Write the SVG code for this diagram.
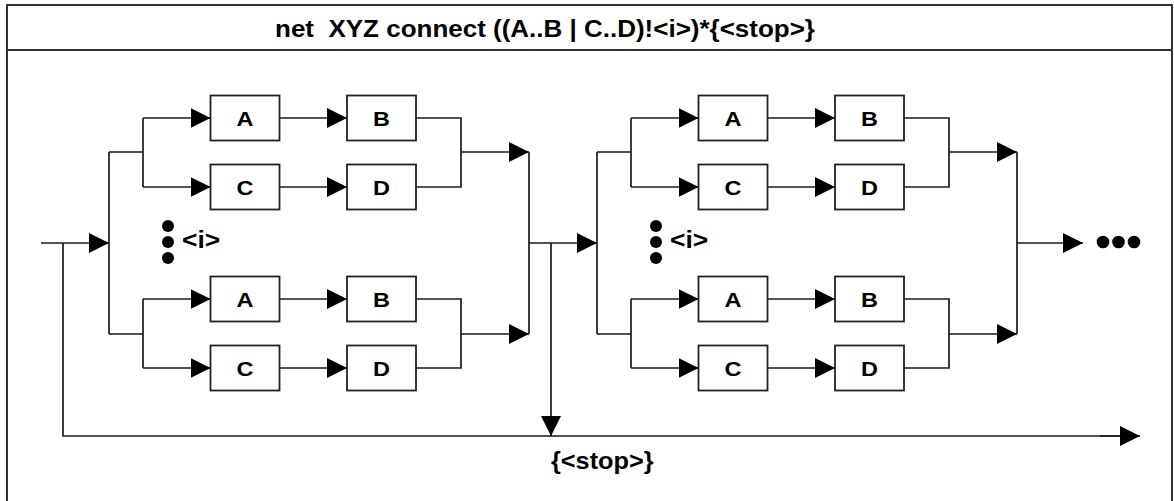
<svg xmlns="http://www.w3.org/2000/svg" width="1174" height="501" viewBox="0 0 1174 501">
<defs>
<style>
.frame{fill:none;stroke:#333;stroke-width:2}
.ln{fill:none;stroke:#1a1a1a;stroke-width:1.7}
.arr{fill:none;stroke:#1a1a1a;stroke-width:1.7;marker-end:url(#ah)}
.box rect{fill:#fff;stroke:#222;stroke-width:1.8}
.t{font-family:"Liberation Sans",Arial,sans-serif;font-weight:bold;fill:#000}
.bl{font-size:21px;text-anchor:middle}
.lbl{font-size:23px}
.dot{fill:#000}
</style>
<marker id="ah" viewBox="0 0 20 20" refX="20" refY="10" markerWidth="20" markerHeight="20" markerUnits="userSpaceOnUse" orient="auto">
<path d="M0,0 L20,10 L0,20 z" fill="#000"/>
</marker>
</defs>
<rect width="1174" height="501" fill="#fff"/>
<g id="frame">
<rect class="frame" x="7" y="5" width="1165" height="510"/>
<line class="frame" x1="7" y1="50" x2="1172" y2="50"/>
<text class="t lbl" text-anchor="middle" transform="translate(545,37) scale(1.13,1)">net &#160;XYZ connect ((A..B | C..D)!&lt;i&gt;)*{&lt;stop&gt;}</text>
</g>
<g id="connectors">
<line class="arr" x1="41" y1="243" x2="109" y2="243"/>
<polyline class="ln" points="63,243 63,436 1120,436"/>
<line class="arr" x1="1100" y1="436" x2="1140" y2="436"/>
<line class="ln" x1="109" y1="152" x2="109" y2="334"/>
<line class="ln" x1="109" y1="152" x2="143" y2="152"/>
<line class="ln" x1="109" y1="334" x2="143" y2="334"/>
<line class="ln" x1="143" y1="118" x2="143" y2="187"/>
<line class="ln" x1="143" y1="299" x2="143" y2="368"/>
<line class="arr" x1="143" y1="118" x2="210.5" y2="118"/>
<line class="arr" x1="143" y1="187" x2="210.5" y2="187"/>
<line class="arr" x1="143" y1="299" x2="210.5" y2="299"/>
<line class="arr" x1="143" y1="368" x2="210.5" y2="368"/>
<line class="arr" x1="279.5" y1="118" x2="347" y2="118"/>
<line class="arr" x1="279.5" y1="187" x2="347" y2="187"/>
<line class="arr" x1="279.5" y1="299" x2="347" y2="299"/>
<line class="arr" x1="279.5" y1="368" x2="347" y2="368"/>
<polyline class="ln" points="416,118 461,118 461,187 416,187"/>
<polyline class="ln" points="416,299 461,299 461,368 416,368"/>
<line class="arr" x1="461" y1="152" x2="529" y2="152"/>
<line class="arr" x1="461" y1="334" x2="529" y2="334"/>
<line class="ln" x1="529" y1="152" x2="529" y2="334"/>
<line class="arr" x1="529" y1="243" x2="597" y2="243"/>
<line class="arr" x1="551" y1="243" x2="551" y2="436"/>
<line class="ln" x1="597" y1="152" x2="597" y2="334"/>
<line class="ln" x1="597" y1="152" x2="631" y2="152"/>
<line class="ln" x1="597" y1="334" x2="631" y2="334"/>
<line class="ln" x1="631" y1="118" x2="631" y2="187"/>
<line class="ln" x1="631" y1="299" x2="631" y2="368"/>
<line class="arr" x1="631" y1="118" x2="698.5" y2="118"/>
<line class="arr" x1="631" y1="187" x2="698.5" y2="187"/>
<line class="arr" x1="631" y1="299" x2="698.5" y2="299"/>
<line class="arr" x1="631" y1="368" x2="698.5" y2="368"/>
<line class="arr" x1="767.5" y1="118" x2="835" y2="118"/>
<line class="arr" x1="767.5" y1="187" x2="835" y2="187"/>
<line class="arr" x1="767.5" y1="299" x2="835" y2="299"/>
<line class="arr" x1="767.5" y1="368" x2="835" y2="368"/>
<polyline class="ln" points="904,118 949,118 949,187 904,187"/>
<polyline class="ln" points="904,299 949,299 949,368 904,368"/>
<line class="arr" x1="949" y1="152" x2="1017" y2="152"/>
<line class="arr" x1="949" y1="334" x2="1017" y2="334"/>
<line class="ln" x1="1017" y1="152" x2="1017" y2="334"/>
<line class="arr" x1="1017" y1="243" x2="1083" y2="243"/>
</g>
<g id="nodeA1" class="box"><rect x="210.5" y="95.5" width="69" height="45"/><text class="t bl" transform="translate(245,125.5) scale(1.12,1)">A</text></g>
<g id="nodeB1" class="box"><rect x="347" y="95.5" width="69" height="45"/><text class="t bl" transform="translate(381.5,125.5) scale(1.12,1)">B</text></g>
<g id="nodeC1" class="box"><rect x="210.5" y="164.5" width="69" height="45"/><text class="t bl" transform="translate(245,194.5) scale(1.12,1)">C</text></g>
<g id="nodeD1" class="box"><rect x="347" y="164.5" width="69" height="45"/><text class="t bl" transform="translate(381.5,194.5) scale(1.12,1)">D</text></g>
<g id="nodeA2" class="box"><rect x="210.5" y="276.5" width="69" height="45"/><text class="t bl" transform="translate(245,306.5) scale(1.12,1)">A</text></g>
<g id="nodeB2" class="box"><rect x="347" y="276.5" width="69" height="45"/><text class="t bl" transform="translate(381.5,306.5) scale(1.12,1)">B</text></g>
<g id="nodeC2" class="box"><rect x="210.5" y="345.5" width="69" height="45"/><text class="t bl" transform="translate(245,375.5) scale(1.12,1)">C</text></g>
<g id="nodeD2" class="box"><rect x="347" y="345.5" width="69" height="45"/><text class="t bl" transform="translate(381.5,375.5) scale(1.12,1)">D</text></g>
<g id="nodeA3" class="box"><rect x="698.5" y="95.5" width="69" height="45"/><text class="t bl" transform="translate(733,125.5) scale(1.12,1)">A</text></g>
<g id="nodeB3" class="box"><rect x="835" y="95.5" width="69" height="45"/><text class="t bl" transform="translate(869.5,125.5) scale(1.12,1)">B</text></g>
<g id="nodeC3" class="box"><rect x="698.5" y="164.5" width="69" height="45"/><text class="t bl" transform="translate(733,194.5) scale(1.12,1)">C</text></g>
<g id="nodeD3" class="box"><rect x="835" y="164.5" width="69" height="45"/><text class="t bl" transform="translate(869.5,194.5) scale(1.12,1)">D</text></g>
<g id="nodeA4" class="box"><rect x="698.5" y="276.5" width="69" height="45"/><text class="t bl" transform="translate(733,306.5) scale(1.12,1)">A</text></g>
<g id="nodeB4" class="box"><rect x="835" y="276.5" width="69" height="45"/><text class="t bl" transform="translate(869.5,306.5) scale(1.12,1)">B</text></g>
<g id="nodeC4" class="box"><rect x="698.5" y="345.5" width="69" height="45"/><text class="t bl" transform="translate(733,375.5) scale(1.12,1)">C</text></g>
<g id="nodeD4" class="box"><rect x="835" y="345.5" width="69" height="45"/><text class="t bl" transform="translate(869.5,375.5) scale(1.12,1)">D</text></g>
<g id="index1">
<circle class="dot" cx="168" cy="226" r="6"/><circle class="dot" cx="168" cy="242" r="6"/><circle class="dot" cx="168" cy="258" r="6"/>
<text class="t lbl" transform="translate(182,248) scale(1.15,1)">&lt;i&gt;</text>
</g>
<g id="index2">
<circle class="dot" cx="656" cy="226" r="6"/><circle class="dot" cx="656" cy="242" r="6"/><circle class="dot" cx="656" cy="258" r="6"/>
<text class="t lbl" transform="translate(670,248) scale(1.15,1)">&lt;i&gt;</text>
</g>
<g id="more">
<circle class="dot" cx="1103" cy="242" r="6.3"/><circle class="dot" cx="1118.5" cy="242" r="6.3"/><circle class="dot" cx="1134" cy="242" r="6.3"/>
</g>
<g id="stopLabel">
<text class="t lbl" transform="translate(551,469) scale(1.1,1)">{&lt;stop&gt;}</text>
</g>
</svg>
